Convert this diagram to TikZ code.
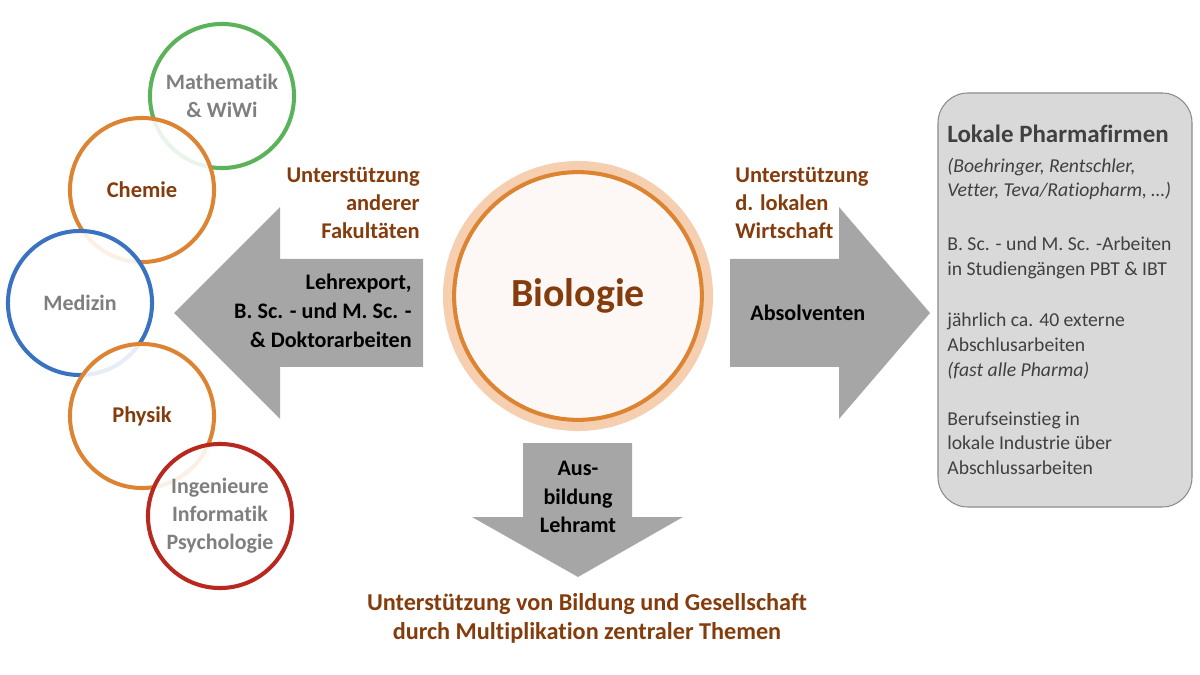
\documentclass[tikz,border=0pt]{standalone}
\usepackage{fontspec}
\setmainfont{Carlito}[Ligatures=NoCommon]
\usetikzlibrary{positioning}

\definecolor{arrowgray}{HTML}{A6A6A6}
\definecolor{brown}{HTML}{843C0C}
\definecolor{ringorange}{HTML}{DD8433}
\definecolor{ringlight}{HTML}{F5CFB0}
\definecolor{corefill}{HTML}{FDF8F5}
\definecolor{mathgreen}{HTML}{5AB25A}
\definecolor{medblue}{HTML}{3A72C2}
\definecolor{engred}{HTML}{B8281E}
\definecolor{labelgray}{HTML}{7F7F7F}
\definecolor{boxfill}{HTML}{D9D9D9}
\definecolor{boxline}{HTML}{8C8C8C}
\definecolor{boxtext}{HTML}{404040}

\begin{document}
\begin{tikzpicture}[x=0.02cm, y=-0.02cm, font=\bfseries,
    faculty/.style={circle, draw=#1, line width=2.3pt, fill=white, fill opacity=0.88,
        text opacity=1, minimum size=82pt, inner sep=0pt, align=center},
    graylabel/.style={text=labelgray, font=\fontsize{12.5}{16}\selectfont\bfseries},
    brownlabel/.style={text=brown, font=\fontsize{12.8}{16}\selectfont\bfseries},
    blocklabel/.style={text=black, font=\fontsize{12.6}{16.4}\selectfont\bfseries}]

    \useasboundingbox (0,0) rectangle (1200,675);

    % -----------------------
    % 1. Faculty circles (left)
    % -----------------------
    \node[faculty=mathgreen, graylabel] (math) at (222,96) {Mathematik\\\& WiWi};
    \node[faculty=ringorange, brownlabel] (chem) at (142,190) {Chemie};
    \node[faculty=medblue, graylabel] (med) at (80,303) {Medizin};
    \node[faculty=ringorange, brownlabel] (phys) at (142,416) {Physik};
    \node[faculty=engred, graylabel] (eng) at (220,516) {Ingenieure\\Informatik\\Psychologie};

    % -----------------------
    % 2. Biologie (centre)
    % -----------------------
    \node[circle, draw=ringlight, line width=5.7pt, minimum size=148pt, inner sep=0pt] (bioring) at (578,296) {};
    \node[circle, draw=ringorange, fill=corefill, line width=2.3pt, minimum size=141pt,
        inner sep=0pt, text=brown, font=\fontsize{22.7}{26}\selectfont\bfseries] (bio) at (578,296) {Biologie};

    % -----------------------
    % 3. Block arrows
    % -----------------------
    % left: Biologie -> other faculties
    \fill[arrowgray] (423,259) -- (280,259) -- (280,207) -- (174,313) -- (280,419)
        -- (280,367) -- (423,367) -- cycle;
    % right: Biologie -> local industry
    \fill[arrowgray] (730,259) -- (839,259) -- (839,207) -- (930,313) -- (839,419)
        -- (839,367) -- (730,367) -- cycle;
    % down: Biologie -> education
    \fill[arrowgray] (523,443) -- (632,443) -- (632,517) -- (683,517) -- (578,577)
        -- (472,517) -- (523,517) -- cycle;

    % -----------------------
    % 4. Arrow labels
    % -----------------------
    \node[brownlabel, align=right, anchor=east, inner sep=0pt] (leftsup) at (420,203) {Unterstützung\\anderer\\Fakultäten};
    \node[blocklabel, align=right, anchor=east, inner sep=0pt] (leftblock) at (412,311) {Lehrexport,\\B. Sc. - und M. Sc. -\\\& Doktorarbeiten};
    \node[brownlabel, align=left, anchor=west, inner sep=0pt] (rightsup) at (735,203) {Unterstützung\\d. lokalen\\Wirtschaft};
    \node[blocklabel, anchor=west, inner sep=0pt] (rightblock) at (750,313) {Absolventen};
    \node[blocklabel, align=center] (downblock) at (578,497) {Aus-\\bildung\\Lehramt};
    \node[brownlabel, align=center, font=\fontsize{13.8}{16.5}\selectfont\bfseries] (bottom) at (587,618)
        {Unterstützung von Bildung und Gesellschaft\\durch Multiplikation zentraler Themen};

    % -----------------------
    % 5. Pharma box (right)
    % -----------------------
    \draw[boxline, fill=boxfill, line width=0.6pt, rounded corners=17pt] (938,93) rectangle (1192,507);
    \node[anchor=north west, align=left, text=boxtext, inner sep=0pt,
        font=\fontsize{11.2}{14}\selectfont\mdseries] (pharma) at (947,125) {%
        {\fontsize{14.2}{15}\selectfont\bfseries Lokale Pharmafirmen}\\[2.8pt]
        \textit{(Boehringer, Rentschler,}\\
        \textit{Vetter, Teva/Ratiopharm, …)}\\[16.5pt]
        B. Sc. - und M. Sc. -Arbeiten\\
        in Studiengängen PBT \& IBT\\[15.5pt]
        jährlich ca. 40 externe\\
        Abschlusarbeiten\\
        \textit{(fast alle Pharma)}\\[14pt]
        Berufseinstieg in\\
        lokale Industrie über\\
        Abschlussarbeiten};

\end{tikzpicture}
\end{document}
